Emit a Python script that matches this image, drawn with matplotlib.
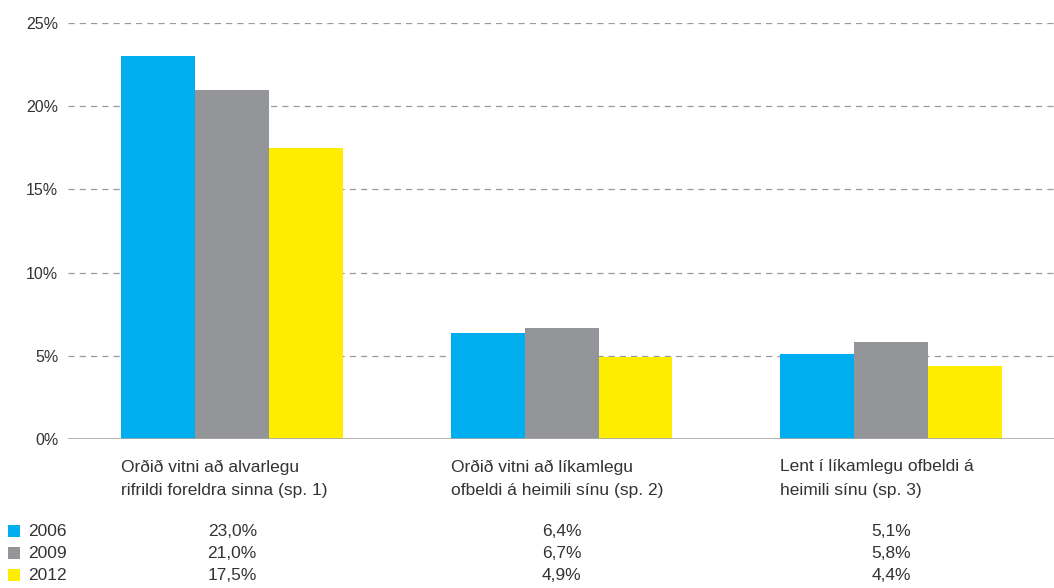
import matplotlib
matplotlib.use("Agg")
import matplotlib.pyplot as plt
from matplotlib.patches import Rectangle
import matplotlib.transforms as mtransforms
import numpy as np

categories = [
    "Orðið vitni að alvarlegu\nrifrildi foreldra sinna (sp. 1)",
    "Orðið vitni að líkamlegu\nofbeldi á heimili sínu (sp. 2)",
    "Lent í líkamlegu ofbeldi á\nheimili sínu (sp. 3)",
]
years = ["2006", "2009", "2012"]
values_2006 = [23.0, 6.4, 5.1]
values_2009 = [21.0, 6.7, 5.8]
values_2012 = [17.5, 4.9, 4.4]
yticks = [0, 5, 10, 15, 20, 25]
ytick_labels = ["0%", "5%", "10%", "15%", "20%", "25%"]

series = [values_2006, values_2009, values_2012]
colors = ["#00AEEF", "#939598", "#FFED00"]
text_color = "#333333"

plt.rcParams["font.family"] = ["Liberation Sans", "DejaVu Sans"]
plt.rcParams["font.size"] = 11

W, H = 1054, 588
fig = plt.figure(figsize=(W / 100, H / 100), dpi=100)
ax = fig.add_axes([68 / W, 1 - 439 / H, (W - 68) / W, (439 - 23) / H])

x = np.arange(len(categories))
bw = 0.2245
for i, (vals, c) in enumerate(zip(series, colors)):
    ax.bar(x + (i - 1) * bw, vals, width=bw, color=c, linewidth=0, zorder=3)

ax.set_xlim(-0.4985, 2.495)
ax.set_ylim(0, 25)
ax.set_yticks(yticks)
ax.set_yticklabels(ytick_labels, color=text_color, fontsize=11.5)
ax.tick_params(axis="y", length=0, pad=7)
ax.set_xticks([])
for s in ax.spines.values():
    s.set_visible(False)
for yv in yticks[1:]:
    ax.axhline(yv, color="#9a9a9a", linewidth=0.9, linestyle=(0, (5, 4)), zorder=1)
ax.axhline(0, color="#a8a8a8", linewidth=1.2, zorder=4)

fs = 12.5
# category labels under each group, left aligned at first bar
trans = mtransforms.blended_transform_factory(ax.transData, fig.transFigure)
for xi, lab in zip(x, categories):
    for k, line in enumerate(lab.split("\n")):
        ax.text(xi - 1.5 * bw, 1 - (467 + 24 * k) / H, line, transform=trans,
                ha="left", va="center", color=text_color, fontsize=fs)

# data table with legend keys
row_y = [531, 553, 575]
for yr, vals, c, ry in zip(years, series, colors, row_y):
    fy = 1 - ry / H
    fig.patches.append(Rectangle((8 / W, fy - 6 / H), 12 / W, 12 / H,
                                 transform=fig.transFigure, facecolor=c,
                                 edgecolor="none"))
    fig.text(28 / W, fy, yr, ha="left", va="center", color=text_color, fontsize=fs)
    for xi, v in zip(x, vals):
        s = f"{v:.1f}".replace(".", ",") + "%"
        ax.text(xi, fy, s, transform=trans, ha="center", va="center",
                color=text_color, fontsize=fs)

fig.savefig("out.png", dpi=100, facecolor="white")
